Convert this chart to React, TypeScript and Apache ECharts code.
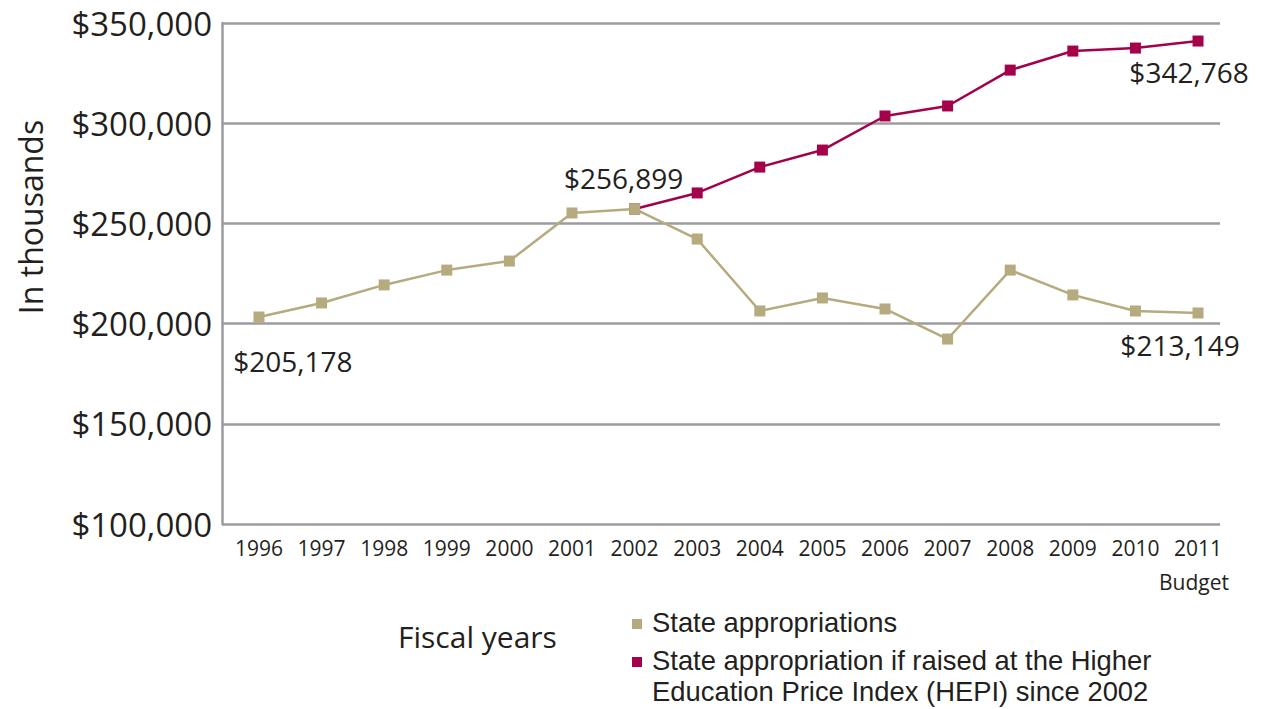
import React, { useEffect, useRef } from "react";
import * as echarts from "echarts";

const years = ["1996","1997","1998","1999","2000","2001","2002","2003","2004","2005","2006","2007","2008","2009","2010","2011"];
const stateAppropriations = [203300, 210300, 219300, 226700, 231200, 255200, 257200, 242200, 206300, 212800, 207300, 192300, 226700, 214300, 206300, 205300];
const hepiAppropriations = [null, null, null, null, null, null, 257200, 265200, 278100, 286600, 303600, 308600, 326500, 336000, 337500, 341000];
const yTicks = { min: 100000, max: 350000, interval: 50000 };
const callouts = [
  { series: "state", index: 0, text: "$205,178", offset: [34, 44] },
  { series: "state", index: 6, text: "$256,899", offset: [-11, -31] },
  { series: "state", index: 15, text: "$213,149", offset: [-18, 32] },
  { series: "hepi", index: 15, text: "$342,768", offset: [-9, 31] },
];
const legendItems = [
  { name: "State appropriations", lines: ["State appropriations"], color: "#b5ab7e" },
  {
    name: "State appropriation if raised at the Higher Education Price Index (HEPI) since 2002",
    lines: ["State appropriation if raised at the Higher", "Education Price Index (HEPI) since 2002"],
    color: "#a5004a",
  },
];

const FONT = "'Open Sans', 'Noto Sans', sans-serif";
const LEGEND_FONT = "'Liberation Sans', Arial, sans-serif";
const TEXT = "#231f20";
const GRID = "#9c9ca0";

function withLabels(values: (number | null)[], key: string) {
  return values.map((v, i) => {
    const c = callouts.find((c) => c.series === key && c.index === i);
    if (!c || v == null) return v;
    return {
      value: v,
      label: {
        show: true,
        position: "inside",
        formatter: c.text,
        offset: c.offset,
        color: TEXT,
        fontSize: 28,
        fontFamily: FONT,
      },
    };
  });
}

function legendText(text: string, y: number) {
  return {
    type: "text",
    x: 652,
    y,
    style: {
      text,
      fill: TEXT,
      font: `27.4px ${LEGEND_FONT}`,
      textAlign: "left",
      textVerticalAlign: "middle",
    },
  };
}

export default function App() {
  const ref = useRef<HTMLDivElement>(null);
  useEffect(() => {
    if (!ref.current) return;
    const chart = echarts.init(ref.current, null, { renderer: "svg" });
    chart.setOption({
      animation: false,
      backgroundColor: "#ffffff",
      grid: [
        { left: 222, right: 43, top: 23, bottom: 185, containLabel: false },
        { left: 227.67, right: 33.67, top: 23, bottom: 185, containLabel: false },
      ],
      xAxis: [
        { type: "value", gridIndex: 0, min: 0, max: 1, show: false },
        {
          type: "category",
          gridIndex: 1,
          data: years,
          boundaryGap: true,
          axisLine: { show: false },
          axisTick: { show: false },
          axisLabel: { color: TEXT, fontSize: 21, fontFamily: FONT, margin: 13, interval: 0 },
        },
      ],
      yAxis: [
        {
          type: "value",
          gridIndex: 0,
          min: yTicks.min,
          max: yTicks.max,
          interval: yTicks.interval,
          axisLine: { show: true, onZero: false, lineStyle: { color: GRID, width: 2.5 } },
          axisTick: { show: false },
          splitLine: { show: true, lineStyle: { color: GRID, width: 2.5 } },
          axisLabel: {
            color: TEXT,
            fontSize: 33,
            fontFamily: FONT,
            margin: 10,
            formatter: (v: number) => "$" + v.toLocaleString("en-US"),
          },
        },
        {
          type: "value",
          gridIndex: 1,
          min: yTicks.min,
          max: yTicks.max,
          interval: yTicks.interval,
          show: false,
        },
      ],
      series: [
        {
          name: legendItems[1].name,
          type: "line",
          xAxisIndex: 1,
          yAxisIndex: 1,
          data: withLabels(hepiAppropriations, "hepi"),
          symbol: "rect",
          symbolSize: 11,
          lineStyle: { color: legendItems[1].color, width: 2.5 },
          itemStyle: { color: legendItems[1].color },
          connectNulls: false,
        },
        {
          name: legendItems[0].name,
          type: "line",
          xAxisIndex: 1,
          yAxisIndex: 1,
          data: withLabels(stateAppropriations, "state"),
          symbol: "rect",
          symbolSize: 11,
          lineStyle: { color: legendItems[0].color, width: 2.5 },
          itemStyle: { color: legendItems[0].color },
        },
      ],
      graphic: [
        {
          type: "text",
          x: 30,
          y: 217,
          rotation: Math.PI / 2,
          style: {
            text: "In thousands",
            fill: TEXT,
            font: `32px ${FONT}`,
            textAlign: "center",
            textVerticalAlign: "middle",
          },
        },
        {
          type: "text",
          x: 1194,
          y: 582,
          style: {
            text: "Budget",
            fill: TEXT,
            font: `21px ${FONT}`,
            textAlign: "center",
            textVerticalAlign: "middle",
          },
        },
        {
          type: "text",
          x: 398,
          y: 636,
          style: {
            text: "Fiscal years",
            fill: TEXT,
            font: `30px ${FONT}`,
            textAlign: "left",
            textVerticalAlign: "middle",
          },
        },
        { type: "rect", shape: { x: 632, y: 619, width: 10, height: 10 }, style: { fill: legendItems[0].color } },
        legendText(legendItems[0].lines[0], 622),
        { type: "rect", shape: { x: 632, y: 657, width: 10, height: 10 }, style: { fill: legendItems[1].color } },
        legendText(legendItems[1].lines[0], 660),
        legendText(legendItems[1].lines[1], 691),
      ],
    });
    return () => chart.dispose();
  }, []);
  return (
    <div
      ref={ref}
      style={{ position: "fixed", left: 0, top: 0, width: 1263, height: 709, background: "#fff" }}
    />
  );
}
